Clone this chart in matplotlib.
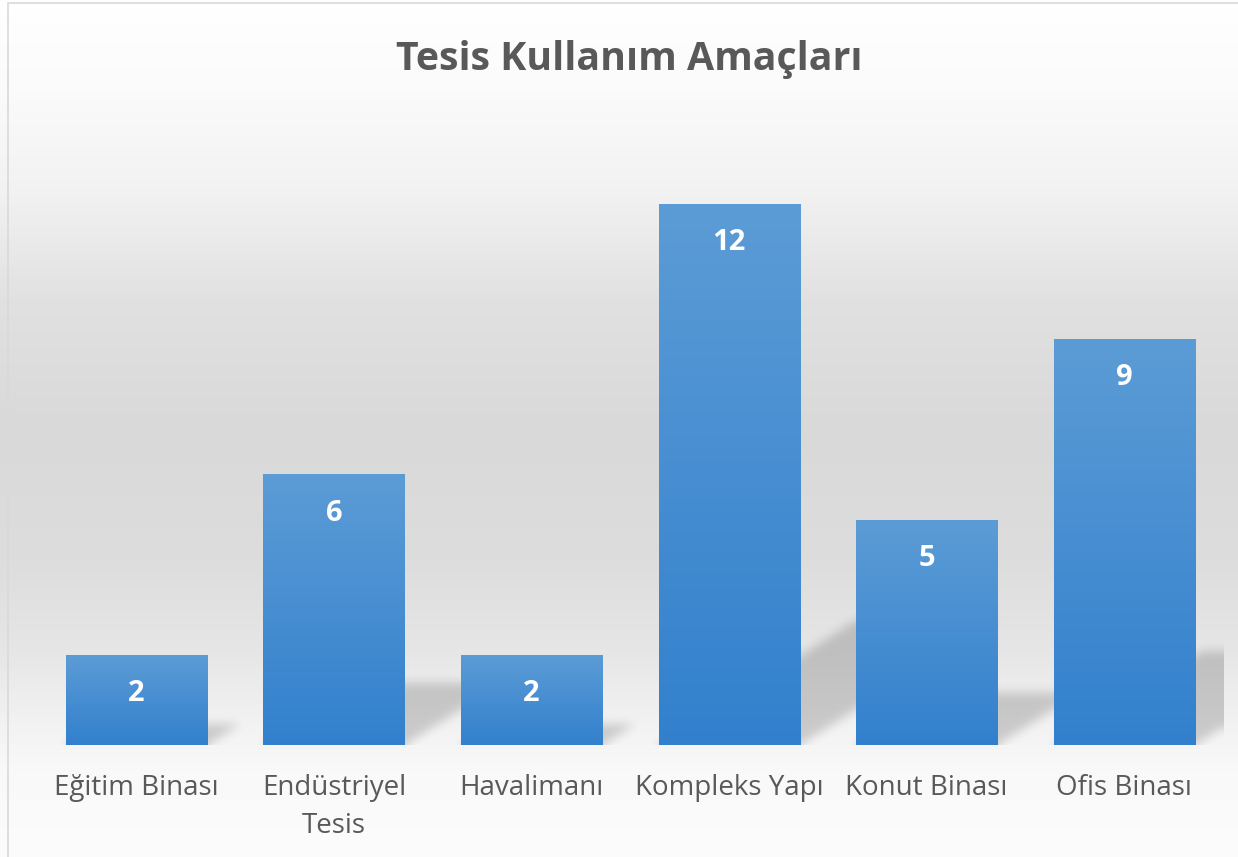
import numpy as np
import matplotlib
matplotlib.use("Agg")
import matplotlib.pyplot as plt
from matplotlib.patches import Rectangle

categories = ["Eğitim Binası", "Endüstriyel\nTesis", "Havalimanı", "Kompleks Yapı", "Konut Binası", "Ofis Binası"]
values = [2, 6, 2, 12, 5, 9]
title = "Tesis Kullanım Amaçları"

FONT = "Open Sans"
TXT = "#595959"

W, H, DPI = 1238, 857, 100
fig = plt.figure(figsize=(W / DPI, H / DPI), dpi=DPI)

# background gradient (figure level)
bg = fig.add_axes([0, 0, 1, 1], zorder=-10)
bg.set_axis_off()
ys = np.array([0, 90, 190, 300, 430, 560, 650, 710, 770, 857])
gs = np.array([255, 251, 242, 225, 217, 221, 230, 240, 249, 252]) / 255.0
yy = np.arange(H)
g = np.interp(yy, ys, gs)
img = np.repeat(g[:, None], 4, axis=1)
bg.imshow(np.dstack([img, img, img]), extent=[0, 1, 0, 1], aspect="auto", origin="upper")
bg.set_xlim(0, 1)
bg.set_ylim(0, 1)
bg.add_patch(Rectangle((8 / W, -0.1), 1.2, 1.1 - 3 / H, fill=False, ec="#d9d9d9", lw=1.2,
                       transform=bg.transAxes))

ax_left, ax_right = 37.7, 1223.0
base_px, ppu = 745.0, 45.1
ymax = 14
ax = fig.add_axes([ax_left / W, (H - base_px) / H, (ax_right - ax_left) / W, ymax * ppu / H])
ax.patch.set_alpha(0)
x = np.arange(len(categories))
width = 0.715
ax.set_xlim(-0.5, len(categories) - 0.5)
ax.set_ylim(0, ymax)

# shadows (sheared projection of each bar), blurred
nx, ny = 1200, 640
gx = np.linspace(-0.5, len(categories) - 0.5, nx)
gy = np.linspace(0, ymax, ny)
GX, GY = np.meshgrid(gx, gy)
mask = np.zeros_like(GX)
shear = 0.362  # category units per y unit
cfac = 0.23
for xi, v in zip(x, values):
    C = cfac * v
    xl, xr = xi - width / 2, xi + width / 2
    inside = (GY >= 0) & (GY <= C) & (GX >= xl + shear * GY) & (GX <= xr + shear * GY)
    mask[inside] = 1.0

def blur(a, sigma, axis):
    r = int(3 * sigma)
    k = np.exp(-0.5 * (np.arange(-r, r + 1) / sigma) ** 2)
    k /= k.sum()
    return np.apply_along_axis(lambda m: np.convolve(np.pad(m, r, mode="edge"), k, mode="valid"), axis, a)

mask = blur(mask, 5.0, 1)
mask = blur(mask, 5.0, 0)
sh = np.zeros((ny, nx, 4))
sh[..., 3] = 0.17 * mask
ax.imshow(sh, extent=[-0.5, len(categories) - 0.5, 0, ymax], origin="lower", aspect="auto",
          zorder=1, interpolation="bilinear")

# bars with vertical gradient
bars = ax.bar(x, values, width=width, color="none", edgecolor="none", zorder=2)
top_c = np.array([92, 156, 214]) / 255.0
bot_c = np.array([50, 128, 205]) / 255.0
for b, v in zip(bars, values):
    t = np.linspace(0, 1, 256)[:, None]
    grad = top_c[None, None, :] * (1 - t[..., None]) + bot_c[None, None, :] * t[..., None]
    grad = np.repeat(grad, 2, axis=1)
    im = ax.imshow(grad, extent=[b.get_x(), b.get_x() + b.get_width(), 0, v], origin="upper",
                   aspect="auto", zorder=3)
    im.set_clip_path(b)
    ax.annotate(str(v), (b.get_x() + b.get_width() / 2, v), xytext=(0, -28),
                textcoords="offset points", ha="center", va="center", color="white",
                fontsize=21, fontweight="bold", family=FONT, zorder=5)

ax.set_xlim(-0.5, len(categories) - 0.5)
ax.set_ylim(0, ymax)
for s in ax.spines.values():
    s.set_visible(False)
ax.set_yticks([])
ax.set_xticks(x)
ax.set_xticklabels(categories, fontsize=20, color=TXT, family=FONT, linespacing=1.47)
ax.tick_params(axis="x", length=0, pad=21)

fig.text(629.5 / W, 1 - 70 / H, title, ha="center", va="baseline", fontsize=28.3, fontweight="bold",
         color=TXT, family=FONT)

fig.savefig("out.png", dpi=DPI)
